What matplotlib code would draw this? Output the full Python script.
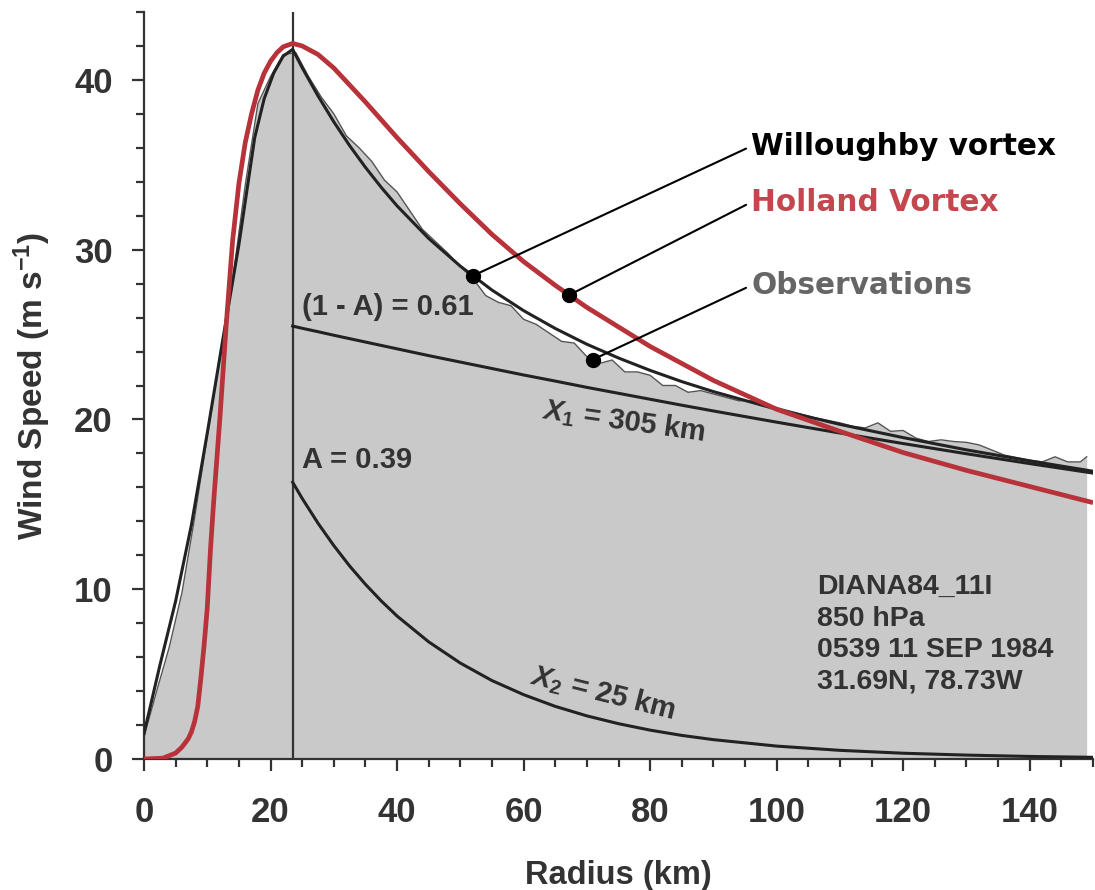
import numpy as np
import matplotlib.pyplot as plt
from matplotlib.ticker import MultipleLocator

plt.rcParams['font.family'] = ['Liberation Sans', 'DejaVu Sans']
plt.rcParams['mathtext.fontset'] = 'custom'
plt.rcParams['mathtext.rm'] = 'Liberation Sans:bold'
plt.rcParams['mathtext.bf'] = 'Liberation Sans:bold'
plt.rcParams['mathtext.it'] = 'Liberation Sans:italic:bold'

# Radius of maximum wind (km)
rmax = 23.5

# Observed tangential wind, 850 hPa flight leg
obs_r = np.append(np.arange(0, 150, 2), 149)
obs_v = [1.3, 4.0, 6.6, 9.8, 14.2, 19.0, 23.6, 28.2, 33.8, 38.6,
         40.2, 41.5, 41.6, 40.2, 39.0, 38.0, 36.7, 36.0, 35.2, 34.1,
         33.4, 32.3, 31.2, 30.5, 29.8, 29.0, 28.3, 27.3, 26.9, 26.7,
         25.9, 25.6, 25.1, 24.6, 24.5, 23.7, 23.3, 23.5, 22.8, 22.8,
         22.6, 22.0, 22.0, 21.6, 21.7, 21.5, 21.3, 21.1, 21.1, 20.9,
         20.7, 20.5, 20.3, 20.1, 19.95, 19.8, 19.6, 19.5, 19.8, 19.3,
         19.35, 18.9, 18.7, 18.8, 18.7, 18.65, 18.5, 18.2, 17.9, 17.75,
         17.6, 17.5, 17.8, 17.5, 17.5, 17.8]

# Willoughby profile
wil_r = [0, 2.5, 5, 7.5, 10, 12.5, 15, 17.5, 19, 20.5, 22, 23.5,
         25, 27.5, 30, 32.5, 35, 37.5, 40, 45, 50, 55, 60, 65, 70,
         75, 80, 85, 90, 100, 110, 120, 130, 140, 150]
wil_v = [1.5, 5.5, 9.3, 13.8, 19.2, 24.8, 30.3, 36.6, 38.9, 40.4, 41.4, 41.8,
         40.72, 39.06, 37.53, 36.13, 34.85, 33.67, 32.58, 30.66, 29.03, 27.62,
         26.41, 25.36, 24.43, 23.62, 22.89, 22.23, 21.64, 20.60, 19.71, 18.93,
         18.21, 17.56, 16.95]

# Outer exponential components (X1 = 305 km, X2 = 25 km)
comp_r = [23.5, 25, 27.5, 30, 32.5, 35, 37.5, 40, 45, 50, 55, 60, 65, 70,
          75, 80, 85, 90, 100, 110, 120, 130, 140, 150]
comp1_v = [25.50, 25.37, 25.17, 24.96, 24.76, 24.56, 24.36, 24.16, 23.76,
           23.38, 23.00, 22.62, 22.26, 21.89, 21.54, 21.19, 20.84, 20.50,
           19.84, 19.20, 18.58, 17.98, 17.40, 16.84]
comp2_v = [16.30, 15.35, 13.89, 12.57, 11.37, 10.29, 9.31, 8.42, 6.90, 5.65,
           4.62, 3.79, 3.10, 2.54, 2.08, 1.70, 1.39, 1.14, 0.76, 0.51, 0.34,
           0.23, 0.15, 0.10]

# Holland profile
hol_r = [0, 3, 5, 6, 7, 7.5, 8, 8.5, 9, 9.5, 10, 10.5, 11, 11.5, 12, 13, 14,
         15, 16, 17, 18, 19, 20, 21, 22, 23.5, 25, 27.5, 30, 35, 40, 45, 50,
         55, 60, 65, 70, 80, 90, 100, 110, 120, 130, 140, 150]
hol_v = [0, 0.05, 0.35, 0.7, 1.2, 1.6, 2.2, 3.1, 4.8, 6.7, 8.9, 12.3, 15.1,
         17.6, 20.1, 25.6, 30.5, 33.9, 36.3, 38.0, 39.4, 40.4, 41.1, 41.6,
         41.95, 42.15, 42.0, 41.5, 40.7, 38.7, 36.6, 34.6, 32.7, 30.9, 29.3,
         27.9, 26.6, 24.3, 22.3, 20.6, 19.3, 18.05, 17.0, 16.05, 15.1]

red = '#b8323a'
dark = '#333333'

fig = plt.figure(figsize=(10.95, 8.9), dpi=100)
ax = fig.add_axes([144 / 1095, 131 / 890, 949 / 1095, 747 / 890])

ax.fill_between(obs_r, 0, obs_v, color='#c9c9c9', lw=0, zorder=1)
ax.plot(obs_r, obs_v, color='#555555', lw=1.0, zorder=2)
ax.axvline(rmax, color=dark, lw=1.6, zorder=3)
ax.plot(comp_r, comp1_v, color='#222222', lw=2.2, zorder=4)
ax.plot(comp_r, comp2_v, color='#222222', lw=2.2, zorder=4)
ax.plot(wil_r, wil_v, color='#222222', lw=2.2, zorder=5)
ax.plot(hol_r, hol_v, color=red, lw=3.4, zorder=6, solid_capstyle='butt')

# parameter labels
ax.text(24.9, 26.6, '(1 - A) = 0.61', fontsize=21, fontweight='bold',
        color=dark, ha='left', va='center', zorder=7)
ax.text(24.9, 17.6, 'A = 0.39', fontsize=21, fontweight='bold',
        color=dark, ha='left', va='center', zorder=7)
ax.text(75.9, 19.9, r'$X_{\mathit{1}}$ = 305 km', fontsize=21,
        fontweight='bold', color=dark, ha='center', va='center',
        rotation=-8, zorder=7)
ax.text(72.5, 3.9, r'$X_{\mathit{2}}$ = 25 km', fontsize=21,
        fontweight='bold', color=dark, ha='center', va='center',
        rotation=-14, zorder=7)
ax.text(106.4, 10.9, 'DIANA84_11I\n850 hPa\n0539 11 SEP 1984\n31.69N, 78.73W',
        fontsize=20.5, fontweight='bold', color=dark, ha='left', va='top',
        linespacing=1.28, zorder=7)

# labelled leaders
leaders = [
    ('Willoughby vortex', 'black', wil_r, wil_v, 52, 36.1),
    ('Holland Vortex', '#c4474f', hol_r, hol_v, 67.2, 32.8),
    ('Observations', '#666666', obs_r, obs_v, 70.9, 27.9),
]
for label, col, xs, ys, rm, ty in leaders:
    vm = np.interp(rm, xs, ys)
    ax.plot(rm, vm, 'o', color='black', ms=10, zorder=9)
    ax.annotate(label, xy=(rm, vm), xytext=(96.0, ty), textcoords='data',
                fontsize=21.3, fontweight='bold', color=col,
                family=['DejaVu Sans'], ha='left', va='center', zorder=9,
                arrowprops=dict(arrowstyle='-', color='black', lw=1.5,
                                relpos=(0, 0.5), shrinkA=2, shrinkB=0))

ax.set_xlim(0, 150)
ax.set_ylim(0, 44)
ax.xaxis.set_major_locator(MultipleLocator(20))
ax.xaxis.set_minor_locator(MultipleLocator(5))
ax.yaxis.set_major_locator(MultipleLocator(10))
ax.yaxis.set_minor_locator(MultipleLocator(2))

for side in ['top', 'right']:
    ax.spines[side].set_visible(False)
for side in ['left', 'bottom']:
    ax.spines[side].set_color(dark)
    ax.spines[side].set_linewidth(1.6)

ax.tick_params(which='major', direction='out', length=8.6, width=1.6,
               color=dark, labelcolor=dark, labelsize=25)
ax.tick_params(which='minor', direction='out', length=6, width=1.6, color=dark)
ax.tick_params(axis='x', which='major', pad=18)
ax.tick_params(axis='y', which='major', pad=14)
for lab in ax.get_xticklabels() + ax.get_yticklabels():
    lab.set_fontweight('bold')

ax.set_xlabel('Radius (km)', fontsize=23.5, fontweight='bold', color=dark)
ax.set_ylabel('Wind Speed (m s$^{-1}$)', fontsize=24, fontweight='bold',
              color=dark)
ax.xaxis.set_label_coords(0.5, -0.135)
ax.yaxis.set_label_coords(-0.096, 0.5)

fig.savefig('out.png', dpi=100)
